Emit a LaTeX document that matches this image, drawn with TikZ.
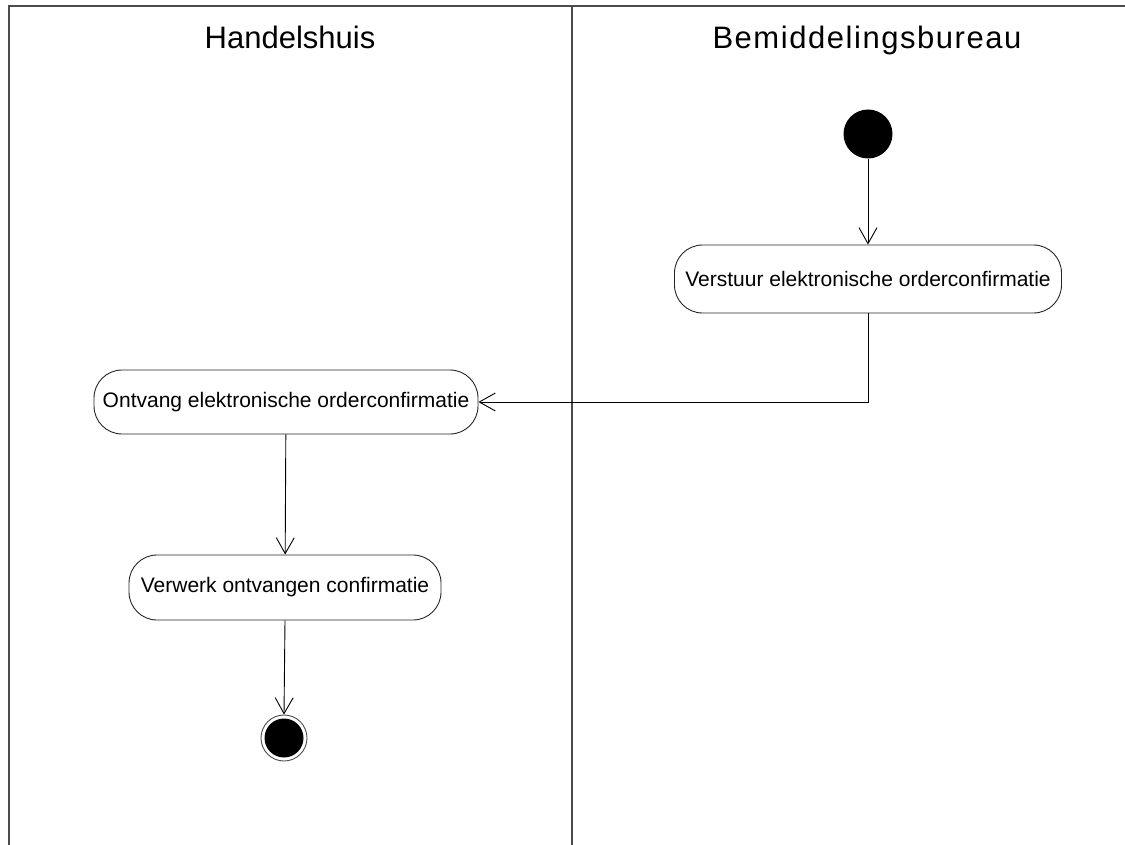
\documentclass[tikz,border=0pt]{standalone}
\usepackage{fontspec}
\setmainfont{Liberation Sans}
\usetikzlibrary{arrows.meta}
\begin{document}
\begin{tikzpicture}[x=1pt,y=-1pt,
  lane/.style={draw=black!70, line width=2pt},
  title/.style={font=\fontsize{31}{36}\selectfont, anchor=base},
  action/.style={draw=black!85, line width=0.9pt, rounded corners=28pt,
    minimum height=#1, inner sep=0pt, font=\fontsize{21}{24}\selectfont},
  flow/.style={draw=black, line width=0.9pt, -{Straight Barb[length=16pt,width=18pt,line width=0.9pt]}},
  startnode/.style={circle, fill=black, minimum size=49pt, inner sep=0pt},
  endouter/.style={circle, draw=black!70, line width=0.9pt, minimum size=46pt, inner sep=0pt},
  endinner/.style={circle, fill=black, minimum size=39pt, inner sep=0pt}
]
\useasboundingbox (0,0) rectangle (1125,845);
\fill[white] (0,0) rectangle (1125,845);
% swimlane frame
\coordinate (tl) at (8.5,6.5);
\coordinate (tr) at (1130,6.5);
\coordinate (bl) at (8.5,850);
\coordinate (dt) at (571.5,6.5);
\coordinate (db) at (571.5,850);
\draw[lane] (bl) -- (tl) -- (tr);
\draw[lane] (dt) -- (db);
\node[title] (t1) at (290,49) {Handelshuis};
\node[title] (t2) at (867,49) {\addfontfeature{LetterSpace=5}Bemiddelingsbureau};
% nodes
\node[startnode] (start) at (868,134) {};
\node[action=68pt, minimum width=387pt] (vers) at (868,279) {Verstuur elektronische orderconfirmatie};
\node[action=64pt, minimum width=384pt] (ont) at (286,402) {Ontvang elektronische orderconfirmatie};
\node[action=65pt, minimum width=312pt] (verw) at (285,587.5) {Verwerk ontvangen confirmatie};
\node[endouter] (endo) at (284,738) {};
\node[endinner] (endi) at (endo) {};
% flows
\draw[flow] (start) -- (vers);
\draw[flow] (vers.south) |- (ont.east);
\draw[flow] (ont) -- (verw);
\draw[flow] (verw.south) -- (endo.north);
\end{tikzpicture}
\end{document}
